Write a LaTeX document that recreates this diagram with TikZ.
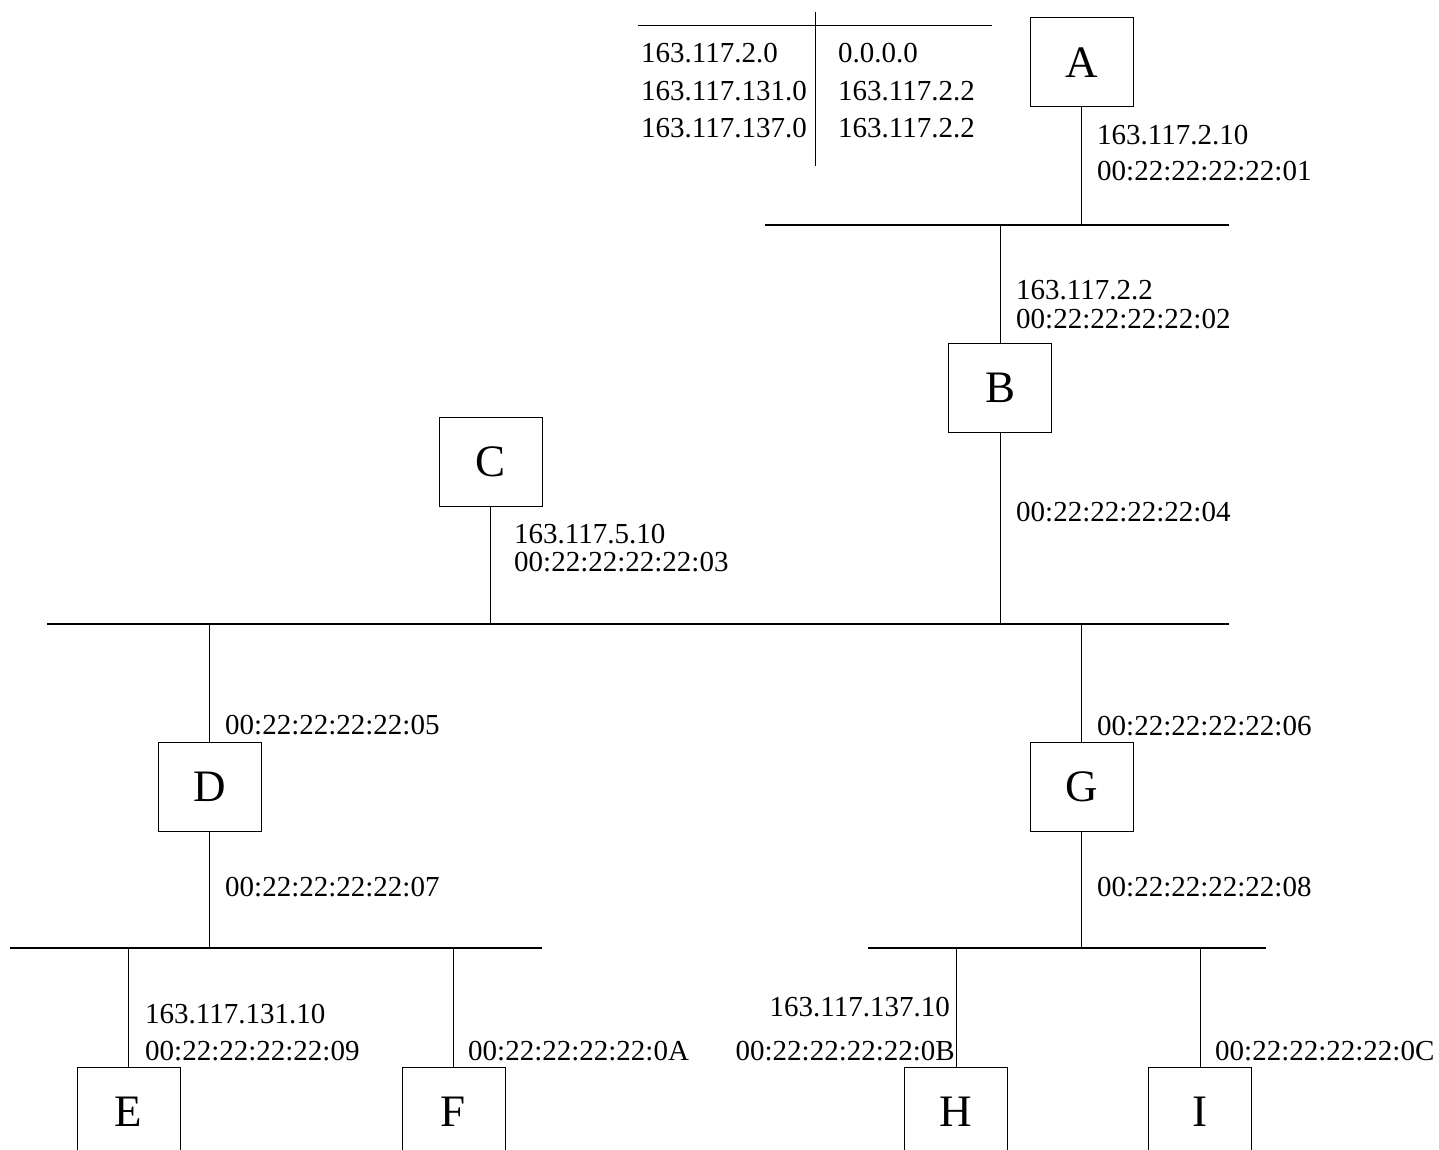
\documentclass[tikz,border=0pt]{standalone}
\usepackage{fontspec}
\setmainfont{Liberation Serif}
\begin{document}
\begin{tikzpicture}[x=1pt,y=-1pt,
  box/.style={draw, line width=1pt, minimum width=103pt, minimum height=89pt, inner sep=0pt, font=\fontsize{45}{54}\selectfont},
  lab/.style={inner sep=0pt, anchor=west, font=\fontsize{29}{34}\selectfont},
  labr/.style={lab, anchor=east},
  bus/.style={line width=2pt},
  link/.style={line width=1pt}]
\clip (0,0) rectangle (1439,1150);
% table
\coordinate (tl) at (638,25.7);
\coordinate (tr) at (992,25.7);
\coordinate (tt) at (815,11.7);
\coordinate (tb) at (815,165.7);
\draw[link] (tl) -- (tr);
\draw[link] (tt) -- (tb);
\node[lab] (t11) at (641,53) {163.117.2.0};
\node[lab] (t21) at (641,91) {163.117.131.0};
\node[lab] (t31) at (641,128) {163.117.137.0};
\node[lab] (t12) at (838,53) {0.0.0.0};
\node[lab] (t22) at (838,91) {163.117.2.2};
\node[lab] (t32) at (838,128) {163.117.2.2};
% boxes
\node[box] (A) at (1081.5,62.5) {A};
\node[box] (B) at (1000,387.5) {B};
\node[box] (C) at (490.5,461.5) {C};
\node[box] (D) at (209.5,786.5) {D};
\node[box] (G) at (1081.5,786.5) {G};
\node[box] (E) at (128.5,1111.5) {E};
\node[box] (F) at (453.5,1111.5) {F};
\node[box] (H) at (956,1111.5) {H};
\node[box] (I) at (1200,1111.5) {I};
% buses
\coordinate (b1l) at (765,225);
\coordinate (b1r) at (1229,225);
\coordinate (b2l) at (47,624);
\coordinate (b2r) at (1229,624);
\coordinate (b3l) at (10,948);
\coordinate (b3r) at (542,948);
\coordinate (b4l) at (868,948);
\coordinate (b4r) at (1266,948);
\draw[bus] (b1l) -- (b1r);
\draw[bus] (b2l) -- (b2r);
\draw[bus] (b3l) -- (b3r);
\draw[bus] (b4l) -- (b4r);
% links
\draw[link] (A.south) -- (A.south |- b1l);
\draw[link] (B.north) -- (B.north |- b1l);
\draw[link] (B.south) -- (B.south |- b2l);
\draw[link] (C.south) -- (C.south |- b2l);
\draw[link] (D.north) -- (D.north |- b2l);
\draw[link] (D.south) -- (D.south |- b3l);
\draw[link] (G.north) -- (G.north |- b2l);
\draw[link] (G.south) -- (G.south |- b4l);
\draw[link] (E.north) -- (E.north |- b3l);
\draw[link] (F.north) -- (F.north |- b3l);
\draw[link] (H.north) -- (H.north |- b4l);
\draw[link] (I.north) -- (I.north |- b4l);
% labels
\node[lab] (la1) at (1097,135) {163.117.2.10};
\node[lab] (la2) at (1097,171.5) {00:22:22:22:22:01};
\node[lab] (lb1) at (1016,290) {163.117.2.2};
\node[lab] (lb2) at (1016,319) {00:22:22:22:22:02};
\node[lab] (lb3) at (1016,512) {00:22:22:22:22:04};
\node[lab] (lc1) at (514,534) {163.117.5.10};
\node[lab] (lc2) at (514,562) {00:22:22:22:22:03};
\node[lab] (ld1) at (225,725) {00:22:22:22:22:05};
\node[lab] (ld2) at (225,887) {00:22:22:22:22:07};
\node[lab] (lg1) at (1097,726) {00:22:22:22:22:06};
\node[lab] (lg2) at (1097,887) {00:22:22:22:22:08};
\node[lab] (le1) at (145,1014) {163.117.131.10};
\node[lab] (le2) at (145,1051) {00:22:22:22:22:09};
\node[lab] (lf1) at (468,1051) {00:22:22:22:22:0A};
\node[labr] (lh1) at (950,1007) {163.117.137.10};
\node[labr] (lh2) at (955,1051) {00:22:22:22:22:0B};
\node[lab] (li1) at (1215,1051) {00:22:22:22:22:0C};
\end{tikzpicture}
\end{document}
